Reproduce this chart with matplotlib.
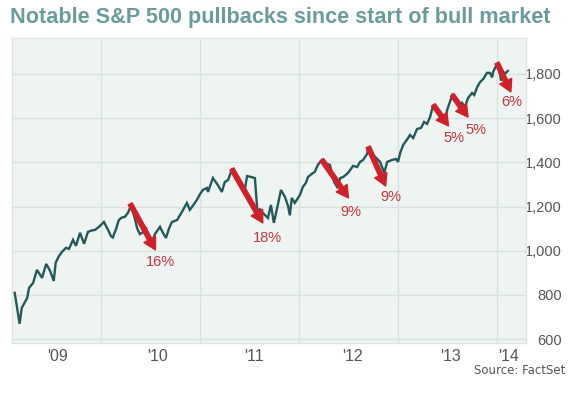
import numpy as np
import pandas as pd
import matplotlib
matplotlib.use("Agg")
import matplotlib.pyplot as plt
import matplotlib.dates as mdates

# --------------------------------------------------
# Data (S&P 500)
# --------------------------------------------------

dates = [
    "2009-02-16", "2009-03-06", "2009-03-14", "2009-04-03", "2009-04-10", "2009-04-25",
    "2009-05-09", "2009-05-28", "2009-06-12", "2009-06-26", "2009-07-10", "2009-07-17",
    "2009-07-29", "2009-08-09", "2009-08-24", "2009-09-04", "2009-09-19", "2009-09-30",
    "2009-10-15", "2009-10-30", "2009-11-13", "2009-11-28", "2009-12-09", "2009-12-24",
    "2010-01-11", "2010-01-26", "2010-02-06", "2010-02-13", "2010-02-25", "2010-03-07",
    "2010-03-18", "2010-03-29", "2010-04-10", "2010-04-21", "2010-05-02", "2010-05-14",
    "2010-05-24", "2010-06-05", "2010-06-16", "2010-06-27", "2010-07-08", "2010-07-18",
    "2010-08-06", "2010-08-17", "2010-08-28", "2010-09-08", "2010-09-19", "2010-10-08",
    "2010-10-26", "2010-11-13", "2010-11-24", "2010-12-09", "2010-12-20", "2010-12-31",
    "2011-01-11", "2011-01-26", "2011-01-30", "2011-02-17", "2011-02-28", "2011-03-07",
    "2011-03-22", "2011-04-02", "2011-04-14", "2011-04-28", "2011-05-13", "2011-05-28",
    "2011-06-08", "2011-06-16", "2011-06-23", "2011-07-07", "2011-07-22", "2011-08-02",
    "2011-08-09", "2011-08-20", "2011-09-08", "2011-09-19", "2011-09-30", "2011-10-15",
    "2011-10-26", "2011-11-10", "2011-11-21", "2011-11-28", "2011-12-05", "2011-12-16",
    "2012-01-04", "2012-01-15", "2012-01-26", "2012-02-03", "2012-02-17", "2012-02-28",
    "2012-03-10", "2012-03-25", "2012-04-05", "2012-04-13", "2012-04-24", "2012-05-09",
    "2012-05-20", "2012-06-01", "2012-06-12", "2012-06-26", "2012-07-08", "2012-07-18",
    "2012-08-02", "2012-08-13", "2012-08-24", "2012-09-08", "2012-09-12", "2012-09-26",
    "2012-10-08", "2012-10-26", "2012-11-10", "2012-11-21", "2012-12-09", "2012-12-24",
    "2012-12-31", "2013-01-08", "2013-01-19", "2013-02-06", "2013-02-13", "2013-02-25",
    "2013-03-11", "2013-03-26", "2013-04-06", "2013-04-17", "2013-04-28", "2013-05-10",
    "2013-05-25", "2013-06-09", "2013-06-20", "2013-07-01", "2013-07-19", "2013-08-03",
    "2013-08-13", "2013-08-24", "2013-09-04", "2013-09-15", "2013-09-30", "2013-10-08",
    "2013-10-19", "2013-10-30", "2013-11-10", "2013-11-24", "2013-12-05", "2013-12-13",
    "2013-12-17", "2013-12-31", "2014-01-11", "2014-01-15", "2014-01-22", "2014-01-29",
    "2014-02-02", "2014-02-09",
]
values = [
    809, 669, 741, 786, 832, 854,
    913, 877, 940, 910, 863, 945,
    975, 994, 1013, 1008, 1049, 1022,
    1081, 1031, 1085, 1092, 1094, 1108,
    1130, 1095, 1066, 1060, 1099, 1139,
    1150, 1153, 1172, 1205, 1160, 1100,
    1075, 1085, 1100, 1060, 1040, 1075,
    1108, 1080, 1058, 1100, 1130, 1139,
    1176, 1216, 1185, 1210, 1230, 1255,
    1275, 1284, 1266, 1329, 1310, 1298,
    1266, 1311, 1320, 1366, 1345, 1310,
    1280, 1285, 1338, 1334, 1329, 1148,
    1190, 1171, 1148, 1207, 1126, 1210,
    1275, 1243, 1203, 1160, 1239, 1216,
    1252, 1289, 1307, 1334, 1348, 1357,
    1388, 1411, 1400, 1393, 1388, 1311,
    1289, 1329, 1334, 1348, 1366, 1384,
    1379, 1402, 1411, 1438, 1470, 1440,
    1424, 1402, 1352, 1402, 1411, 1415,
    1402, 1443, 1479, 1510, 1524, 1510,
    1551, 1556, 1583, 1574, 1605, 1660,
    1630, 1595, 1585, 1640, 1705, 1680,
    1650, 1669, 1651, 1691, 1714, 1705,
    1741, 1764, 1777, 1805, 1805, 1785,
    1810, 1845, 1800, 1770, 1790, 1805,
    1805, 1814,
]

# pullback arrows: start, end, label position
pb_start_dates = ["2010-04-18", "2011-04-28", "2012-03-25", "2012-09-12", "2013-05-10", "2013-07-19", "2013-12-31"]
pb_start_vals = [1212, 1370, 1411, 1470, 1660, 1705, 1850]
pb_end_dates = ["2010-07-20", "2011-08-20", "2012-07-01", "2012-11-15", "2013-07-05", "2013-09-15", "2014-02-20"]
pb_end_vals = [1004, 1126, 1239, 1293, 1565, 1605, 1719]
pb_label_dates = ["2010-08-07", "2011-09-05", "2012-07-10", "2012-12-05", "2013-07-25", "2013-10-15", "2014-02-24"]
pb_label_vals = [949, 1058, 1176, 1243, 1510, 1547, 1673]
pb_labels = ["16%", "18%", "9%", "9%", "5%", "5%", "6%"]

year_lines = ["2010-01-01", "2011-01-01", "2012-01-01", "2013-01-01", "2014-01-01"]
year_label_pos = ["2009-07-22", "2010-07-26", "2011-07-20", "2012-07-15", "2013-07-11", "2014-02-10"]
year_labels = ["'09", "'10", "'11", "'12", "'13", "'14"]

y_ticks = [600, 800, 1000, 1200, 1400, 1600, 1800]

# --------------------------------------------------
# Styling
# --------------------------------------------------

plt.rcParams["font.family"] = ["Liberation Sans", "DejaVu Sans"]

line_col = "#24595a"
red = "#d0212b"
label_red = "#c8343e"
grey = "#555555"

fig = plt.figure(figsize=(5.69, 3.98), dpi=100)
ax = fig.add_axes([12 / 569, 1 - 343 / 398, (526 - 12) / 569, (343 - 38) / 398])
ax.set_facecolor("#eef4f1")

x = pd.to_datetime(dates)
ax.plot(x, values, color=line_col, linewidth=1.7, zorder=3, solid_joinstyle="miter")

for sd, sv, ed, ev, ld, lv, lab in zip(pb_start_dates, pb_start_vals, pb_end_dates, pb_end_vals,
                                      pb_label_dates, pb_label_vals, pb_labels):
    ax.annotate(
        "",
        xy=(pd.Timestamp(ed), ev),
        xytext=(pd.Timestamp(sd), sv),
        arrowprops=dict(
            arrowstyle="simple,head_length=0.85,head_width=0.95,tail_width=0.32",
            color=red,
            shrinkA=0,
            shrinkB=0,
            mutation_scale=10,
        ),
        zorder=4,
    )
    ax.text(pd.Timestamp(ld), lv, lab, color=label_red, fontsize=10.5,
            ha="center", va="center", zorder=5)

# axes limits / grid
ax.set_xlim(pd.Timestamp("2009-02-06"), pd.Timestamp("2014-04-17"))
ax.set_ylim(582, 1963)

ax.set_xticks(pd.to_datetime(year_lines))
ax.set_xticklabels([])
ax.set_xticks(pd.to_datetime(year_label_pos), minor=True)
ax.set_xticklabels(year_labels, minor=True)
ax.tick_params(axis="x", which="both", length=0, colors=grey, labelsize=11.5, pad=4)

ax.set_yticks(y_ticks)
ax.set_yticklabels([f"{v:,}" for v in y_ticks])
ax.yaxis.tick_right()
ax.tick_params(axis="y", length=0, colors=grey, labelsize=10.5, pad=26)
for t in ax.get_yticklabels():
    t.set_horizontalalignment("right")

ax.grid(True, which="major", color="#d8e3df", linewidth=1)
ax.set_axisbelow(True)
for s in ax.spines.values():
    s.set_color("#dde6e2")
    s.set_linewidth(1)

fig.text(10 / 569, 1 - 17 / 398, "Notable S&P 500 pullbacks since start of bull market",
         color="#6b9c9c", fontsize=15.6, fontweight="bold", ha="left", va="center")
fig.text(565 / 569, 1 - 371 / 398, "Source: FactSet", color=grey, fontsize=8.5,
         family="DejaVu Sans", ha="right", va="center")

fig.savefig("out.png", dpi=100)
